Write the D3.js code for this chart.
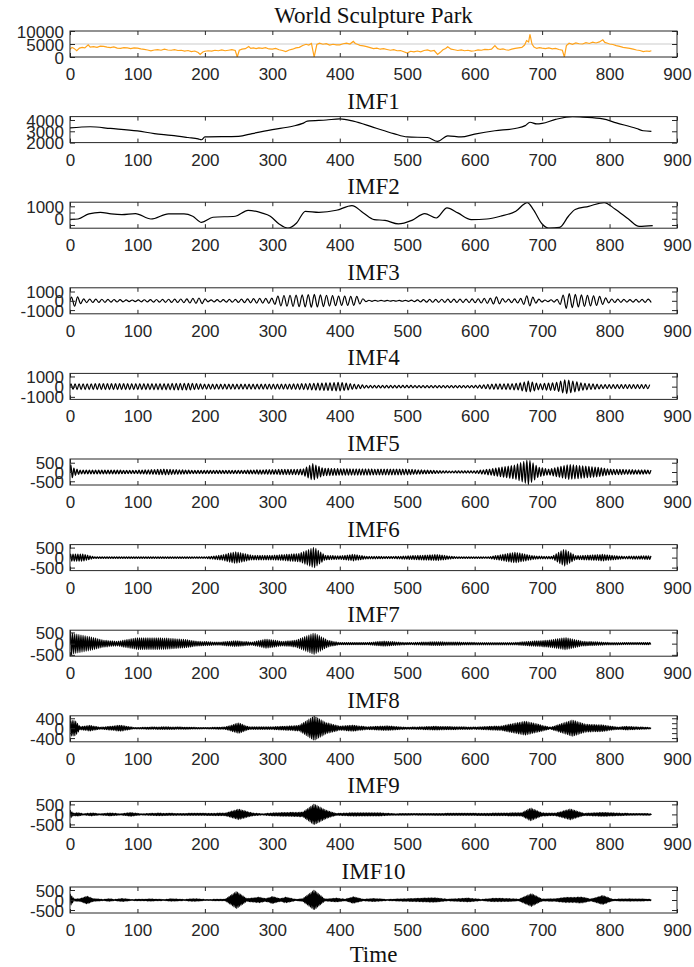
<!DOCTYPE html>
<html>
<head>
<meta charset="utf-8">
<script src="https://cdn.jsdelivr.net/npm/d3@7"></script>
<style>
  body { margin: 0; background: #fff; }
  .tick text { font-family: "Liberation Sans", Arial, sans-serif; font-size: 17px; fill: #262626; }
  .tick line { stroke: #262626; }
  .ptitle { font-family: "Liberation Serif", "Times New Roman", serif; font-size: 23px; fill: #111; }
</style>
</head>
<body>
<svg id="chart"></svg>
<script>
// ---- data ----
const xTicks = [0, 100, 200, 300, 400, 500, 600, 700, 800, 900];
const titles = ["World Sculpture Park", "IMF1", "IMF2", "IMF3", "IMF4", "IMF5", "IMF6", "IMF7", "IMF8", "IMF9", "IMF10"];

// raw visitor series [time, value]
const park = [[0,3000],[3,3700],[6,3300],[10,2400],[14,3400],[18,3700],[22,3500],[27,4700],[30,3800],[35,4000],[40,3700],[45,4200],[50,4100],[55,3800],[60,3600],[65,3900],[70,3400],[75,3300],[80,3600],[85,3500],[90,3200],[95,3500],[100,3400],[105,3100],[110,2900],[115,2700],[120,2400],[125,2700],[130,2800],[135,2600],[140,3000],[145,2700],[150,2600],[155,2800],[160,2500],[165,2600],[170,2300],[175,2500],[180,2100],[185,2300],[190,1700],[193,1000],[197,1900],[200,2200],[205,2400],[210,2300],[215,2600],[220,2400],[225,2700],[230,2400],[235,2600],[240,2800],[245,2500],[248,0],[251,2600],[255,3000],[260,3200],[265,4000],[268,3300],[272,3500],[276,3200],[280,3500],[285,3300],[290,3600],[295,3100],[300,3000],[305,3300],[310,2800],[315,2500],[320,2100],[325,2700],[330,3000],[335,3500],[340,3700],[345,4400],[350,4900],[354,4600],[358,5200],[362,0],[366,4800],[370,5300],[375,4900],[380,5100],[385,4600],[390,4900],[395,4700],[400,4700],[405,5100],[410,5300],[415,5000],[420,6000],[423,5200],[427,4800],[430,4500],[435,4300],[440,4000],[445,3600],[450,3200],[455,3400],[460,3000],[465,3200],[470,2900],[475,2600],[480,2800],[485,2400],[490,2500],[495,2000],[500,1500],[505,2200],[510,2000],[515,2300],[520,2000],[525,2500],[530,2700],[535,2300],[540,2500],[545,1000],[549,1800],[553,2800],[557,3300],[560,3900],[565,3000],[570,2800],[575,2500],[580,2700],[585,2400],[590,2600],[595,2300],[600,2400],[605,2700],[610,2600],[615,2900],[620,2800],[625,3000],[630,4400],[634,3200],[638,2900],[642,3100],[646,2800],[650,2600],[655,3000],[660,3300],[665,3500],[670,3700],[674,4600],[677,6300],[680,5800],[682,8700],[685,5000],[688,3800],[692,3300],[696,3600],[700,3400],[705,3200],[710,3500],[715,3100],[720,3300],[725,2900],[730,2600],[733,0],[736,4400],[740,5300],[745,4900],[750,5400],[755,5100],[760,5000],[765,5500],[770,5200],[775,5700],[780,5400],[785,5800],[790,6600],[793,5600],[797,5300],[800,5000],[805,4800],[810,4400],[815,4100],[820,3700],[825,3500],[830,3300],[835,3000],[840,2700],[845,2500],[850,2100],[855,2300],[859,2200],[862,2400]];

// slow components [time, value]
const imf1 = [[0,3300],[30,3400],[60,3250],[100,3030],[125,2800],[150,2640],[175,2450],[190,2330],[195,2250],[200,2500],[250,2550],[270,2800],[300,3150],[330,3450],[345,3700],[352,3900],[380,4000],[400,4100],[420,3900],[450,3350],[480,2800],[500,2500],[530,2450],[545,2100],[560,2600],[580,2500],[600,2750],[630,3050],[660,3250],[675,3500],[682,3800],[692,3650],[700,3700],[720,4050],[745,4300],[760,4250],[790,4100],[810,3750],[840,3250],[850,3050],[862,3000]];
const imf2 = [[0,-70],[12,-20],[28,390],[45,520],[61,390],[77,330],[97,410],[120,-20],[146,390],[169,390],[182,200],[195,-290],[212,120],[245,200],[264,680],[284,470],[297,200],[310,-420],[323,-760],[336,-340],[349,600],[369,520],[395,680],[418,1060],[435,470],[451,-70],[467,-130],[487,-420],[507,-130],[526,410],[543,60],[559,870],[575,470],[595,-70],[618,-20],[638,200],[661,600],[678,1300],[687,740],[700,-420],[710,-760],[726,-700],[739,200],[749,740],[769,1000],[792,1300],[808,790],[828,-20],[844,-620],[864,-560]];

// oscillating components: amplitude envelope [time, amplitude] and half period
const imf3Env = [[0,200],[5,650],[12,400],[20,200],[60,150],[90,80],[120,130],[170,200],[195,320],[205,100],[240,150],[280,250],[300,280],[310,550],[360,700],[400,500],[425,480],[440,60],[480,30],[500,60],[530,150],[600,200],[625,300],[632,420],[645,150],[668,250],[680,600],[692,200],[705,80],[722,150],[735,820],[760,620],[785,480],[800,200],[830,130],[862,180]];
const imf4Env = [[0,280],[100,300],[180,320],[200,240],[320,250],[350,300],[400,420],[420,260],[440,120],[600,110],[625,250],[665,330],[680,550],[695,300],[720,380],[735,700],[760,350],[790,200],[862,200]];
const imf5Env = [[0,450],[6,200],[15,100],[100,90],[140,150],[180,90],[250,80],[300,130],[345,150],[360,450],[375,200],[400,170],[500,150],[520,110],[560,50],[600,60],[625,170],[660,380],[680,680],[695,250],[710,150],[740,400],[780,260],[800,150],[862,100]];
const imf6Env = [[0,170],[20,170],[35,40],[200,30],[225,120],[245,290],[270,110],[300,110],[340,200],[362,520],[378,110],[400,80],[420,160],[440,60],[480,50],[545,150],[570,40],[620,30],[660,260],[690,70],[715,60],[733,430],[750,90],[790,160],[820,60],[862,90]];
const imf7Env = [[0,550],[5,450],[30,300],[50,150],[70,100],[100,260],[140,250],[170,180],[190,100],[220,60],[245,130],[270,60],[290,200],[315,100],[335,150],[362,480],[382,150],[400,40],[440,40],[465,110],[500,40],[540,80],[600,50],[660,50],[690,120],[710,150],[735,270],[760,100],[800,50],[862,40]];
const imf8Env = [[0,320],[8,300],[15,60],[30,110],[45,30],[75,120],[95,20],[140,50],[200,20],[230,40],[250,210],[265,50],[300,50],[340,110],[362,500],[380,220],[400,80],[420,120],[440,50],[470,90],[500,30],[540,70],[600,40],[640,90],[675,280],[695,150],[712,30],[745,330],[765,150],[790,130],[812,40],[825,70],[862,20]];
const imf9Env = [[0,220],[5,60],[12,80],[20,20],[32,70],[44,20],[60,70],[75,20],[90,90],[105,20],[130,60],[160,40],[200,50],[230,60],[250,260],[270,70],[285,20],[300,70],[345,110],[362,520],[380,200],[395,40],[420,80],[460,70],[480,30],[530,40],[600,50],[640,60],[670,80],[683,320],[700,70],[720,60],[742,270],[762,50],[790,90],[830,40],[862,30]];
const imf10Env = [[0,320],[6,40],[15,60],[25,190],[35,60],[50,20],[58,60],[66,20],[78,70],[90,20],[120,40],[140,20],[150,50],[170,20],[183,60],[200,20],[230,30],[247,430],[262,60],[280,140],[290,60],[300,170],[312,60],[320,140],[335,20],[345,60],[362,500],[378,40],[395,90],[408,30],[420,160],[435,30],[450,70],[470,20],[540,110],[560,30],[590,90],[610,20],[628,80],[650,70],[665,30],[684,320],[700,40],[720,60],[735,130],[760,140],[772,40],[790,220],[805,30],[830,50],[862,30]];
const halfPeriods = [4.5, 3, 2.3, 1.8, 1.55, 1.3, 1.15, 1.05];

// y settings per panel
const yDomains = [[0,10000],[2000,4300],[-760,1330],[-1400,1400],[-1250,1300],[-700,700],[-650,650],[-560,600],[-550,500],[-650,650],[-650,650]];
const yTicks = [[0,5000,10000],[2000,3000,4000],[-500,0,500,1000],[-1000,0,1000],[-1000,0,1000],[-500,0,500],[-500,0,500],[-500,0,500],[-400,-200,0,200,400],[-500,0,500],[-500,0,500]];
const yLabels = [[0,5000,10000],[2000,3000,4000],[0,1000],[-1000,0,1000],[-1000,0,1000],[-500,0,500],[-500,0,500],[-500,0,500],[-400,0,400],[-500,0,500],[-500,0,500]];

// ---- layout ----
const W = 694, H = 967;
const left = 70, right = 677, top0 = 31, step = 85.6, ph = 26;

const svg = d3.select("#chart").attr("width", W).attr("height", H);

const x = d3.scaleLinear().domain([0, 900]).range([left, right]);

// turn an envelope into alternating extrema
function oscillate(env, half) {
  const amp = d3.scaleLinear().domain(env.map(d => d[0])).range(env.map(d => d[1])).clamp(true);
  const pts = [[0, 0]];
  let k = 0;
  for (let t = half / 2; t <= 862; t += half, k++) {
    pts.push([t, (k % 2 ? -1 : 1) * amp(t)]);
  }
  return pts;
}

const series = [park, imf1, imf2,
  oscillate(imf3Env, halfPeriods[0]), oscillate(imf4Env, halfPeriods[1]),
  oscillate(imf5Env, halfPeriods[2]), oscillate(imf6Env, halfPeriods[3]),
  oscillate(imf7Env, halfPeriods[4]), oscillate(imf8Env, halfPeriods[5]),
  oscillate(imf9Env, halfPeriods[6]), oscillate(imf10Env, halfPeriods[7])];

series.forEach((data, i) => {
  const top = top0 + i * step;
  const y = d3.scaleLinear().domain(yDomains[i]).range([top + ph, top]);
  const g = svg.append("g");

  g.append("clipPath").attr("id", "clip" + i)
    .append("rect").attr("x", left).attr("y", top).attr("width", right - left).attr("height", ph);

  // faint reference line in the first panel
  if (i === 0) {
    g.append("line").attr("x1", left).attr("x2", right)
      .attr("y1", y(5000)).attr("y2", y(5000))
      .attr("stroke", "#dcdcdc").attr("stroke-width", 1.5);
  }

  const line = d3.line()
    .x(d => x(d[0])).y(d => y(d[1]))
    .curve(i === 0 ? d3.curveLinear : d3.curveMonotoneX);

  g.append("path").datum(data)
    .attr("clip-path", `url(#clip${i})`)
    .attr("d", line)
    .attr("fill", "none")
    .attr("stroke", i === 0 ? "#FFA31A" : "#000")
    .attr("stroke-width", i === 0 ? 1.2 : (i > 4 ? 1.3 : 1.2));

  // axes, ticks pointing inward like matlab
  g.append("g").attr("transform", `translate(0,${top + ph})`)
    .call(d3.axisBottom(x).tickValues(xTicks).tickSizeInner(-4).tickSizeOuter(0).tickPadding(11));
  g.append("g").attr("transform", `translate(0,${top})`)
    .call(d3.axisTop(x).tickValues(xTicks).tickSizeInner(-4).tickSizeOuter(0).tickFormat(""));
  const yl = g.append("g").attr("transform", `translate(${left},0)`)
    .call(d3.axisLeft(y).tickValues(yTicks[i]).tickSizeInner(-5).tickSizeOuter(0).tickPadding(6)
      .tickFormat(d => yLabels[i].includes(d) ? String(d) : ""));
  g.append("g").attr("transform", `translate(${right},0)`)
    .call(d3.axisRight(y).tickValues(yTicks[i]).tickSizeInner(-5).tickSizeOuter(0).tickFormat(""));
  g.selectAll(".domain").remove();
  yl.selectAll("text").attr("dy", "0.36em");

  g.append("rect")
    .attr("x", left).attr("y", top).attr("width", right - left).attr("height", ph)
    .attr("fill", "none").attr("stroke", "#262626").attr("stroke-width", 1);

  g.append("text").attr("class", "ptitle")
    .attr("x", (left + right) / 2).attr("y", top - 8)
    .attr("text-anchor", "middle")
    .text(titles[i]);
});

svg.append("text").attr("class", "ptitle")
  .attr("x", (left + right) / 2).attr("y", 962)
  .attr("text-anchor", "middle")
  .text("Time");
</script>
</body>
</html>
